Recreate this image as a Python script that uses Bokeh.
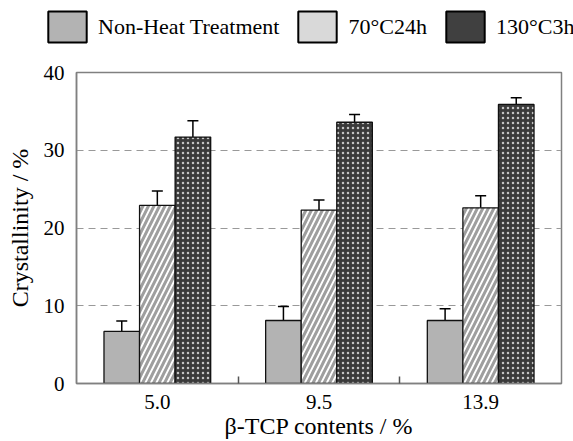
import numpy as np
from bokeh.plotting import figure
from bokeh.layouts import column, row
from bokeh.models import (ColumnDataSource, Range1d, FixedTicker, Whisker, TeeHead,
                          Legend, LegendItem)
from bokeh.embed import file_html
from bokeh.resources import INLINE

# ---- data ----
categories = ["5.0", "9.5", "13.9"]
series_names = ["Non-Heat Treatment", "70°C24h", "130°C3h"]
non_heat = [6.7, 8.1, 8.1]
non_heat_err = [1.35, 1.8, 1.5]
c70_24h = [22.9, 22.3, 22.6]
c70_24h_err = [1.85, 1.3, 1.55]
c130_3h = [31.7, 33.6, 35.9]
c130_3h_err = [2.1, 1.0, 0.85]
y_ticks = [0, 10, 20, 30, 40]
x_label = "β-TCP contents / %"
y_label = "Crystallinity / %"

FONT = "Liberation Serif"
TOP = 55

# ---- legend strip ----
lg = figure(width=573, height=TOP, x_range=Range1d(0, 1), y_range=Range1d(0, 1),
            output_backend="svg", toolbar_location=None,
            x_axis_location=None, y_axis_location=None,
            min_border_left=0, min_border_right=0, min_border_top=0, min_border_bottom=0)
lg.grid.visible = False
lg.outline_line_color = None
legend_colors = ["#b3b3b3", "#d9d9d9", "#404040"]
items = []
for name, col in zip(series_names, legend_colors):
    # placeholder renderer with a NaN row: nothing is drawn, only its legend swatch shows
    r = lg.vbar(x=[np.nan], bottom=[np.nan], top=[np.nan], width=0.2,
                fill_color=col, line_color="black", line_width=2)
    items.append(LegendItem(label=name, renderers=[r]))
leg = Legend(items=items, orientation="horizontal", location=(43, TOP - 46),
             glyph_width=48, glyph_height=39, label_standoff=7, spacing=14,
             padding=0, margin=0, border_line_color=None, background_fill_alpha=0,
             label_text_font=FONT, label_text_font_size="22px", label_text_color="black")
lg.add_layout(leg, "center")

# ---- main chart ----
p = figure(width=573, height=441 - TOP, x_range=Range1d(0, len(categories)), y_range=Range1d(0, 40),
           output_backend="svg", toolbar_location=None,
           min_border_left=76, min_border_right=12, min_border_top=72 - TOP, min_border_bottom=58)

p.outline_line_color = "#808080"
p.outline_line_width = 1.5

centers = np.arange(len(categories)) + 0.5
bw = 0.22
offsets = [-bw, 0.0, bw]

vals = [non_heat, c70_24h, c130_3h]
errs = [non_heat_err, c70_24h_err, c130_3h_err]
styles = [
    dict(fill_color="#b3b3b3"),
    dict(fill_color="white", hatch_pattern="/", hatch_color="#9e9e9e", hatch_scale=11, hatch_weight=3),
    dict(fill_color="#3a3a3a", hatch_pattern=".", hatch_color="#c4c4c4", hatch_scale=5, hatch_weight=1),
]

for v, e, off, st in zip(vals, errs, offsets, styles):
    v = np.array(v); e = np.array(e)
    src = ColumnDataSource(dict(x=centers + off, top=v, upper=v + e, lower=v - e))
    p.vbar(x="x", top="top", bottom=0, width=bw, source=src,
           line_color="#111111", line_width=1.3, **st)
    w = Whisker(base="x", upper="upper", lower="lower", source=src,
                line_color="black", line_width=1.5,
                upper_head=TeeHead(size=11, line_color="black", line_width=1.5),
                lower_head=TeeHead(size=11, line_color="black", line_width=1.5))
    p.add_layout(w)

p.xaxis.ticker = FixedTicker(ticks=list(centers), minor_ticks=list(np.arange(1, len(categories))))
p.xaxis.major_label_overrides = {float(c): lab for c, lab in zip(centers, categories)}
p.xaxis.major_tick_line_color = None
p.xaxis.minor_tick_in = 7
p.xaxis.minor_tick_out = 0
p.xaxis.minor_tick_line_color = "#555555"
p.xaxis.minor_tick_line_width = 1.5
p.xaxis.axis_label = x_label

p.yaxis.ticker = FixedTicker(ticks=y_ticks, minor_ticks=[])
p.yaxis.major_tick_line_color = None
p.yaxis.axis_label = y_label

for ax in (p.xaxis[0], p.yaxis[0]):
    ax.axis_line_color = "#808080"
    ax.axis_line_width = 1.5
    ax.major_label_text_font = FONT
    ax.major_label_text_font_size = "21px"
    ax.major_label_text_color = "black"
    ax.axis_label_text_font = FONT
    ax.axis_label_text_font_size = "24px"
    ax.axis_label_text_font_style = "normal"
    ax.axis_label_text_color = "black"

p.xaxis.major_label_standoff = 5
p.xaxis.axis_label_standoff = 1
p.yaxis.major_label_standoff = 6
p.yaxis.axis_label_standoff = 8

p.xgrid.grid_line_color = None
p.ygrid.ticker = FixedTicker(ticks=[10, 20, 30])
p.ygrid.grid_line_color = "#999999"
p.ygrid.grid_line_dash = "7 5"
p.ygrid.grid_line_width = 1

layout = column(row(lg), p, spacing=0)
open("out.html", "w").write(file_html(layout, INLINE))
